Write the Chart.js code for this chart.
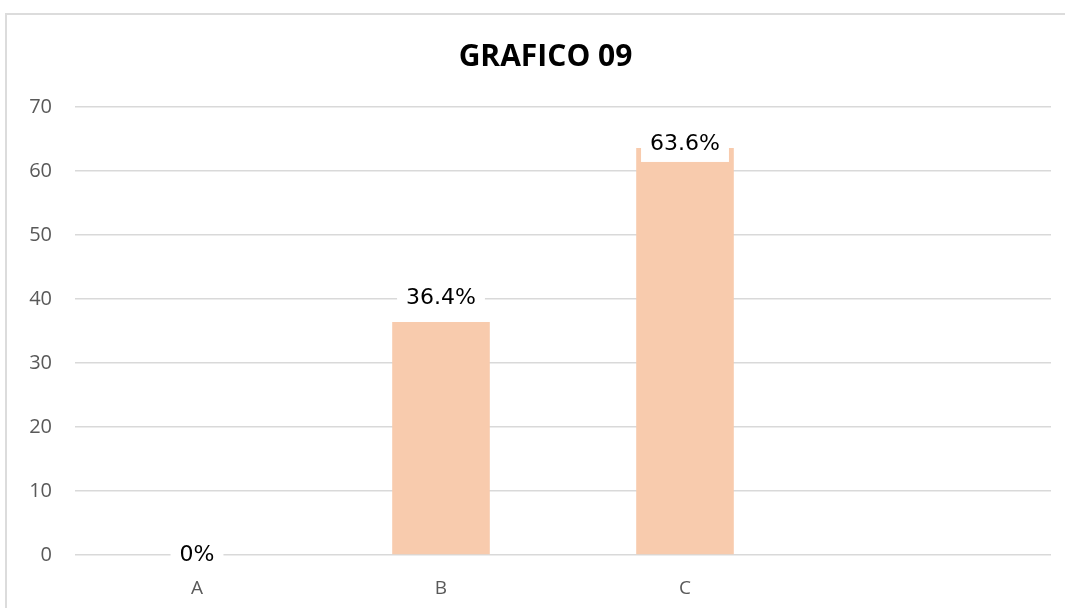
<!DOCTYPE html>
<html lang="es">
<head>
  <meta charset="UTF-8">
  <title>GRAFICO 09</title>
  <script src="https://cdn.jsdelivr.net/npm/chart.js"></script>
  <style>
    body {
      margin: 0;
      padding: 0;
      background: #ffffff;
      width: 1065px;
      height: 608px;
      overflow: hidden;
      position: relative;
    }
    .frame {
      position: absolute;
      left: 5px;
      top: 13px;
      width: 1100px;
      height: 640px;
      border: 2px solid #dcdcdc;
      box-sizing: border-box;
    }
    .chart-box {
      position: absolute;
      left: 0;
      top: 0;
      width: 1065px;
      height: 608px;
    }
  </style>
</head>
<body>
  <div class="frame"></div>
  <div class="chart-box">
    <canvas id="grafico"></canvas>
  </div>

  <script>
    // chart data
    const categories = ['A', 'B', 'C', ''];
    const values = [0, 36.4, 63.6, null];
    const valueLabels = ['0%', '36.4%', '63.6%', null];
    const yTicks = [0, 10, 20, 30, 40, 50, 60, 70];

    // labels with a white box above each bar
    const barLabels = {
      id: 'barLabels',
      afterDatasetsDraw(chart, args, opts) {
        const ctx = chart.ctx;
        const meta = chart.getDatasetMeta(0);
        ctx.save();
        ctx.font = opts.font;
        ctx.textAlign = 'center';
        ctx.textBaseline = 'middle';
        meta.data.forEach(function(bar, i) {
          const text = valueLabels[i];
          if (text == null) return;
          const y = bar.y - opts.lift[i];
          const w = ctx.measureText(text).width + 18;
          const h = 36;
          ctx.fillStyle = '#ffffff';
          ctx.fillRect(bar.x - w / 2, y - h / 2, w, h);
          ctx.fillStyle = '#000000';
          ctx.fillText(text, bar.x, y);
        });
        ctx.restore();
      }
    };

    // the title is centred on the (wider) frame, not on the canvas
    const shiftTitle = {
      id: 'shiftTitle',
      afterLayout(chart) {
        if (chart.titleBlock) {
          chart.titleBlock.left += 20;
          chart.titleBlock.right += 20;
        }
      }
    };

    new Chart(document.getElementById('grafico'), {
      type: 'bar',
      data: {
        labels: categories,
        datasets: [{
          data: values,
          backgroundColor: '#F8CBAD',
          borderWidth: 0,
          barPercentage: 0.4,
          categoryPercentage: 1.0
        }]
      },
      options: {
        responsive: true,
        maintainAspectRatio: false,
        animation: false,
        layout: {
          padding: { left: 0, right: 14, top: 0, bottom: 0 }
        },
        plugins: {
          legend: { display: false },
          tooltip: { enabled: false },
          title: {
            display: true,
            text: 'GRAFICO 09',
            color: '#000000',
            font: { family: 'Open Sans', size: 30, weight: 'bold' },
            padding: { top: 39, bottom: 32 }
          },
          barLabels: {
            font: '22px "DejaVu Sans"',
            lift: [0, 24, 4, 0]
          }
        },
        scales: {
          x: {
            grid: { display: false },
            border: { display: false },
            ticks: {
              color: '#595959',
              font: { family: 'Open Sans', size: 19 },
              padding: 14
            },
            afterFit(scale) { scale.height = 53; }
          },
          y: {
            min: 0,
            max: 70,
            afterBuildTicks(scale) {
              scale.ticks = yTicks.map(v => ({ value: v }));
            },
            grid: { color: '#d9d9d9', lineWidth: 1.5, drawTicks: false },
            border: { display: false },
            ticks: {
              color: '#595959',
              font: { family: 'Open Sans', size: 20 },
              padding: 23
            },
            afterFit(scale) { scale.width = 75; }
          }
        }
      },
      plugins: [barLabels, shiftTitle]
    });
  </script>
</body>
</html>
